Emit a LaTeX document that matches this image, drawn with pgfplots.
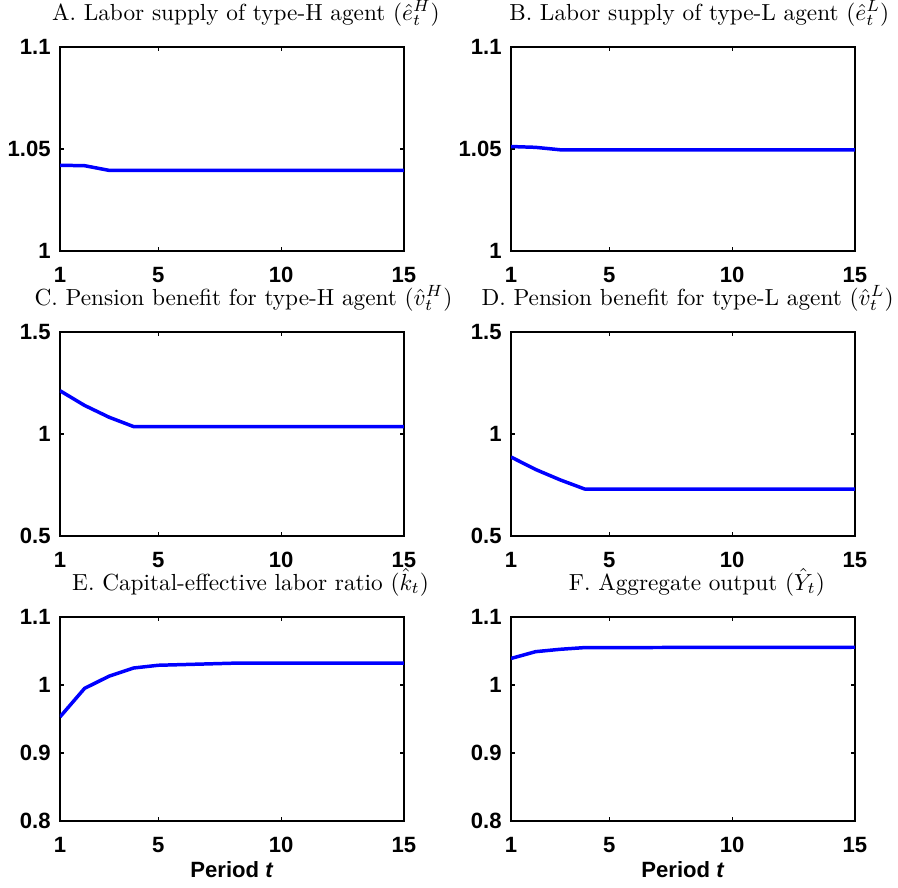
\documentclass[border=0pt]{standalone}
\usepackage{fontspec}
\newfontfamily\arialfont{Liberation Sans}
\usepackage{pgfplots}
\pgfplotsset{compat=1.18}
\usepackage{amsmath}

\pgfplotsset{
  panel/.style={
    scale only axis, width=147.9pt, height=87.7pt,
    anchor=north west,
    xmin=1, xmax=15, xtick={1,5,10,15},
    xticklabels={1,5,10,15},
    tick align=inside, major tick length=1.8pt,
    axis line style={line width=0.7pt},
    every tick/.style={black, line width=0.5pt},
    ticklabel style={font=\arialfont\bfseries\fontsize{9.5}{10}\selectfont},
    /pgf/number format/assume math mode=true,
    xticklabel style={anchor=base, yshift=-13.7pt},
    yticklabel style={anchor=east, xshift=-0.5pt},
    title style={at={(0.5,1)}, anchor=base, yshift=5.5pt, font=\fontsize{10}{12}\selectfont},
    xlabel style={at={(0.5,0)}, anchor=base, yshift=-24.5pt, font=\arialfont\bfseries\fontsize{9.5}{10}\selectfont},
  },
  curve/.style={blue, line width=1.5pt, line join=round},
}

\begin{document}
\begin{tikzpicture}
\useasboundingbox (0,0) rectangle (386.14pt,-381.84pt);

% A
\begin{axis}[panel, at={(25.8pt,-20.21pt)},
  ymin=1, ymax=1.1, ytick={1,1.05,1.1}, yticklabels={1,1.05,1.1},
  title style={xshift=6pt},
  title={A. Labor supply of type-H agent $(\hat{e}_t^{H})$}]
\addplot[curve] coordinates {(1,1.042) (2,1.0418) (3,1.0395) (15,1.0395)};
\end{axis}

% B
\begin{axis}[panel, at={(219.73pt,-20.21pt)},
  ymin=1, ymax=1.1, ytick={1,1.05,1.1}, yticklabels={1,1.05,1.1},
  title style={xshift=7pt},
  title={B. Labor supply of type-L agent $(\hat{e}_t^{L})$}]
\addplot[curve] coordinates {(1,1.0512) (2,1.0508) (3,1.0496) (15,1.0496)};
\end{axis}

% C
\begin{axis}[panel, at={(25.8pt,-142.76pt)},
  ymin=0.5, ymax=1.5, ytick={0.5,1,1.5}, yticklabels={0.5,1,1.5},
  title style={xshift=5pt},
  title={C. Pension benefit for type-H agent $(\hat{v}_t^{H})$}]
\addplot[curve] coordinates {(1,1.212) (2,1.140) (3,1.082) (4,1.036) (15,1.036)};
\end{axis}

% D
\begin{axis}[panel, at={(219.73pt,-142.76pt)},
  ymin=0.5, ymax=1.5, ytick={0.5,1,1.5}, yticklabels={0.5,1,1.5},
  title style={xshift=2pt},
  title={D. Pension benefit for type-L agent $(\hat{v}_t^{L})$}]
\addplot[curve] coordinates {(1,0.887) (2,0.826) (3,0.775) (4,0.730) (15,0.730)};
\end{axis}

% E
\begin{axis}[panel, at={(25.8pt,-265.31pt)},
  ymin=0.8, ymax=1.1, ytick={0.8,0.9,1,1.1}, yticklabels={0.8,0.9,1,1.1},
  title style={xshift=8pt},
  title={E. Capital-effective labor ratio $(\hat{k}_t)$},
  xlabel={Period \textit{t}}]
\addplot[curve] coordinates {(1,0.953) (2,0.995) (3,1.013) (4,1.025) (5,1.029)
  (6,1.030) (7,1.031) (8,1.032) (15,1.032)};
\end{axis}

% F
\begin{axis}[panel, at={(219.73pt,-265.31pt)},
  ymin=0.8, ymax=1.1, ytick={0.8,0.9,1,1.1}, yticklabels={0.8,0.9,1,1.1},
  title style={xshift=6pt},
  title={F. Aggregate output $(\hat{Y}_t)$},
  xlabel={Period \textit{t}}]
\addplot[curve] coordinates {(1,1.039) (2,1.049) (3,1.0525) (4,1.055) (15,1.0555)};
\end{axis}
\end{tikzpicture}
\end{document}
